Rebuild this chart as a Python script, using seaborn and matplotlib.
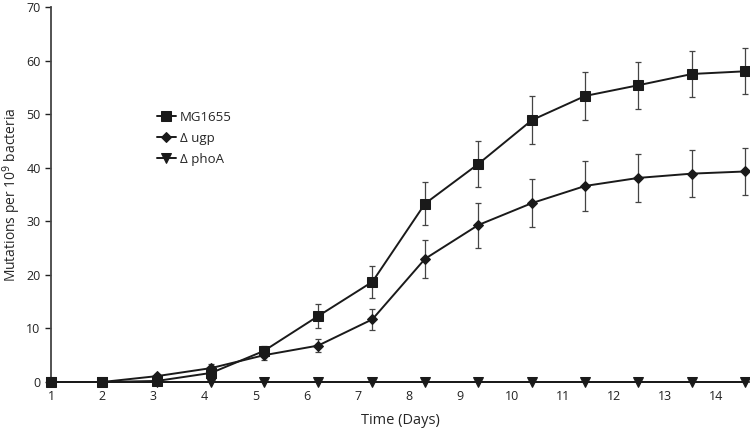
import numpy as np
import pandas as pd
import seaborn as sns
import matplotlib.pyplot as plt

# sampling days as plotted (points drift slightly right of the integer ticks)
days = [1, 2, 3.07, 4.13, 5.16, 6.22, 7.28, 8.31, 9.35, 10.40, 11.44, 12.48, 13.53, 14.57]
tick_days = list(range(1, 15))

mg1655 = [0, 0, 0.2, 1.7, 5.8, 12.3, 18.7, 33.3, 40.7, 48.9, 53.4, 55.4, 57.5, 58.0]
mg1655_err = [0, 0, 0.3, 0.6, 0.9, 2.3, 3.0, 4.0, 4.3, 4.5, 4.4, 4.4, 4.25, 4.3]
ugp = [0, 0, 1.1, 2.6, 5.0, 6.8, 11.7, 23.0, 29.3, 33.4, 36.6, 38.1, 38.9, 39.3]
ugp_err = [0, 0, 0.4, 0.7, 0.8, 1.2, 2.0, 3.6, 4.2, 4.5, 4.6, 4.5, 4.4, 4.45]
phoa = [0] * 14

labels = ["MG1655", "\u0394 ugp", "\u0394 phoA"]

sns.set_style("ticks")
plt.rcParams['font.family'] = ['Open Sans', 'DejaVu Sans']

df = pd.DataFrame({
    "day": days * 3,
    "value": mg1655 + ugp + phoa,
    "strain": [labels[0]] * 14 + [labels[1]] * 14 + [labels[2]] * 14,
})

fig = plt.figure(figsize=(7.5, 4.32), dpi=100)
ax = fig.add_axes([0.068, 0.1157, 0.932, 0.8681])

ax.errorbar(days, mg1655, yerr=mg1655_err, fmt='none', ecolor='#444444',
            elinewidth=0.9, capsize=2.2, capthick=0.9, zorder=2, clip_on=False)
ax.errorbar(days, ugp, yerr=ugp_err, fmt='none', ecolor='#444444',
            elinewidth=0.9, capsize=2.2, capthick=0.9, zorder=2, clip_on=False)

sizes = {labels[0]: 6.8, labels[1]: 5, labels[2]: 6.8}
markers = {labels[0]: 's', labels[1]: 'D', labels[2]: 'v'}
for lab in labels:
    sub = df[df.strain == lab]
    sns.lineplot(data=sub, x="day", y="value", ax=ax, color='#1a1a1a',
                 linewidth=1.4, marker=markers[lab], markersize=sizes[lab],
                 markeredgecolor='#1a1a1a', label=lab, clip_on=False, zorder=3)

ax.set_xlim(1, 14.66)
ax.set_ylim(0, 70)
ax.set_xticks(tick_days)
ax.set_yticks(range(0, 71, 10))
ax.tick_params(axis='x', length=0, pad=6, labelsize=9, colors='#222222')
ax.tick_params(axis='y', length=4, width=1, labelsize=9, colors='#222222', direction='out')
for s in ['top', 'right']:
    ax.spines[s].set_visible(False)
for s in ['left', 'bottom']:
    ax.spines[s].set_color('#444444')
    ax.spines[s].set_linewidth(1.3)

ax.set_xlabel("Time (Days)", fontsize=10.5, labelpad=7)
ax.set_ylabel("Mutations per 10$^9$ bacteria", fontsize=10, labelpad=2)

ax.legend(loc='upper left', bbox_to_anchor=(0.135, 0.755), frameon=False,
          fontsize=9.5, handlelength=1.4, handletextpad=0.3, labelspacing=0.6)

fig.savefig("out.png", dpi=100)
